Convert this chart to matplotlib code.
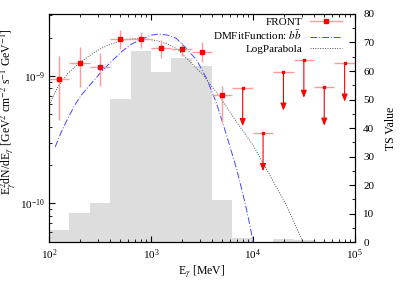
import matplotlib
matplotlib.use("Agg")
import matplotlib.pyplot as plt
from matplotlib.lines import Line2D
from matplotlib.ticker import MultipleLocator, LogLocator, NullFormatter

plt.rcParams['font.family'] = ['Liberation Serif', 'DejaVu Serif']
plt.rcParams['mathtext.fontset'] = 'stix'
plt.rcParams['font.size'] = 8

# energy bins (MeV)
bin_edges = [100, 158, 251, 398, 631, 1000, 1585, 2512, 3981, 6310,
             10000, 15849, 25119, 39811, 63096, 100000]
bin_centers = [126, 200, 316, 501, 794, 1259, 1995, 3162, 5012, 7943,
               12589, 19953, 31623, 50119, 79433]

# TS value per bin
ts_values = [4.3, 10.2, 13.7, 50.3, 67.1, 59.7, 64.7, 61.9, 14.7, 1.3,
             0.0, 1.2, 0.7, 0.0, 0.0]

# detected points (first 9 bins)
flux = [9.46e-10, 1.26e-9, 1.19e-9, 1.95e-9, 1.95e-9, 1.65e-9, 1.63e-9, 1.55e-9, 7.08e-10]
flux_hi = [1.45e-9, 1.68e-9, 1.51e-9, 2.30e-9, 2.21e-9, 1.92e-9, 1.81e-9, 1.86e-9, 8.34e-10]
flux_lo = [4.51e-10, 8.24e-10, 8.34e-10, 1.63e-9, 1.67e-9, 1.38e-9, 1.44e-9, 1.30e-9, 4.25e-10]

# upper limits (last 6 bins)
ul_flux = [8.09e-10, 3.58e-10, 1.07e-9, 1.35e-9, 8.15e-10, 1.26e-9]

# model curves
dm_e = [115, 132, 153, 179, 207, 260, 326, 408, 512, 641, 804, 1007, 1172, 1469,
        1770, 2075, 2805, 3516, 4406, 5521, 6918, 8356, 9354, 10070, 10300]
dm_flux = [2.77e-10, 3.64e-10, 4.65e-10, 5.91e-10, 7.08e-10, 8.77e-10, 1.08e-9,
           1.30e-9, 1.55e-9, 1.78e-9, 1.95e-9, 2.10e-9, 2.14e-9, 2.10e-9, 1.98e-9,
           1.75e-9, 1.34e-9, 9.59e-10, 6.10e-10, 3.43e-10, 1.87e-10, 1.02e-10,
           6.71e-11, 4.95e-11, 3.0e-11]
lp_e = [100, 122, 153, 192, 241, 302, 378, 474, 595, 746, 935, 1172, 1469, 1770,
        2239, 3258, 4742, 6918, 10070, 14690, 21380, 29990, 35480]
lp_flux = [5.9e-10, 8.24e-10, 1.05e-9, 1.24e-9, 1.42e-9, 1.60e-9, 1.75e-9, 1.86e-9,
           1.95e-9, 1.98e-9, 1.95e-9, 1.89e-9, 1.78e-9, 1.65e-9, 1.38e-9, 1.02e-9,
           6.87e-10, 4.37e-10, 2.86e-10, 1.66e-10, 9.64e-11, 5.27e-11, 3.7e-11]

n_det = len(flux)
red = '#ff0000'
pink = '#ff9a9a'
blue = '#4646ff'
grey = '#505050'
dm_ls = (0, (7, 2, 1, 2))
lp_ls = (0, (1, 1.5))

fig = plt.figure(figsize=(4.15, 2.91), dpi=100)
ax = fig.add_axes([0.118, 0.168, 0.737, 0.784])
axr = ax.twinx()
ax.set_zorder(2)
axr.set_zorder(1)
ax.patch.set_visible(False)

# TS histogram
axr.stairs(ts_values, bin_edges, fill=True, color='#dddddd', lw=0)
axr.set_ylim(0, 80)
axr.yaxis.set_major_locator(MultipleLocator(10))
axr.yaxis.set_minor_locator(MultipleLocator(5))
axr.tick_params(which='both', direction='in', pad=6)
axr.tick_params(which='major', length=4)
axr.tick_params(which='minor', length=2)
axr.set_ylabel('TS Value', fontsize=8.5)
axr.yaxis.set_label_coords(1.098, 0.5)

# model curves
ax.plot(dm_e, dm_flux, color=blue, lw=0.7, ls=dm_ls)
ax.plot(lp_e, lp_flux, color=grey, lw=0.7, ls=lp_ls)

# detected points
e_det = bin_centers[:n_det]
xerr = [[c - lo for c, lo in zip(e_det, bin_edges[:n_det])],
        [hi - c for c, hi in zip(e_det, bin_edges[1:n_det + 1])]]
yerr = [[f - lo for f, lo in zip(flux, flux_lo)],
        [hi - f for f, hi in zip(flux, flux_hi)]]
ax.errorbar(e_det, flux, xerr=xerr, yerr=yerr, fmt='s', ms=2.3, color=red,
            ecolor=pink, elinewidth=1, capsize=0)

# upper limits
e_ul = bin_centers[n_det:]
ax.hlines(ul_flux, bin_edges[n_det:-1], bin_edges[n_det + 1:], color=pink, lw=1)
for e, f in zip(e_ul, ul_flux):
    ax.annotate('', xy=(e, f * 0.5), xytext=(e, f),
                arrowprops=dict(arrowstyle='-|>,head_length=0.55,head_width=0.22',
                                color=red, lw=0.8, shrinkA=0, shrinkB=0))
ax.plot(e_ul, ul_flux, 's', ms=2.0, color=red)

ax.set_xscale('log')
ax.set_yscale('log')
ax.set_xlim(100, 1e5)
ax.set_ylim(4.96e-11, 3.08e-9)
ax.xaxis.set_minor_locator(LogLocator(base=10, subs=range(2, 10)))
ax.xaxis.set_minor_formatter(NullFormatter())
ax.yaxis.set_minor_formatter(NullFormatter())
ax.tick_params(which='both', direction='in', top=True, right=False)
ax.tick_params(which='major', length=4)
ax.tick_params(which='minor', length=2)
ax.tick_params(axis='y', pad=3)

ax.set_xlabel(r'E$_\gamma$ [MeV]', fontsize=8.5)
ax.set_ylabel(r'E$_\gamma^2$dN/dE$_\gamma$ [GeV$^2$ cm$^{-2}$ s$^{-1}$ GeV$^{-1}$]', fontsize=8.5)
ax.yaxis.set_label_coords(-0.10, 0.57)
ax.xaxis.set_label_coords(0.5, -0.095)

handles = [
    Line2D([], [], color=pink, lw=1, marker='s', ms=2.3, mfc=red, mec=red),
    Line2D([], [], color=blue, lw=0.7, ls=dm_ls),
    Line2D([], [], color=grey, lw=0.7, ls=lp_ls),
]
labels = ['FRONT', r'DMFitFunction: $b\bar{b}$', 'LogParabola']
ax.legend(handles, labels, loc='upper right', bbox_to_anchor=(0.958, 0.985),
          frameon=False, markerfirst=False, borderpad=0, borderaxespad=0,
          handlelength=2.9, labelspacing=0.12, handletextpad=0.7)

fig.savefig('out.png', dpi=100)
